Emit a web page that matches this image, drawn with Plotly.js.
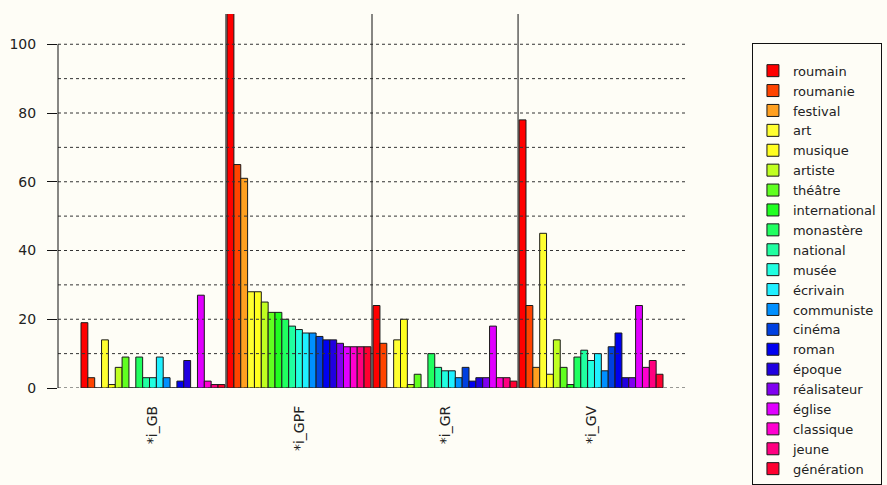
<!DOCTYPE html>
<html>
<head>
<meta charset="utf-8">
<script src="https://cdn.plot.ly/plotly-3.0.1.min.js"></script>
<style>
html,body{margin:0;padding:0;background:#FEFDF6;}
#chart{width:887px;height:485px;}
</style>
</head>
<body>
<div id="chart"></div>
<script>
const groups = ["*i_GB", "*i_GPF", "*i_GR", "*i_GV"];
const categories = ["roumain","roumanie","festival","art","musique","artiste","théâtre","international","monastère","national","musée","écrivain","communiste","cinéma","roman","époque","réalisateur","église","classique","jeune","génération"];
const colors = ["#FF0000","#FF4400","#FFA020","#FFFF30","#FFFF20","#C0FF20","#60FF20","#20FF20","#20FF60","#20FFA0","#20FFE0","#20F0FF","#0090FF","#0040E0","#0000F0","#2000E0","#8000F0","#E000FF","#FF00D0","#FF0080","#FF0030"];
const valuesGB  = [19, 3, 0, 14, 1, 6, 9, 0, 9, 3, 3, 9, 3, 0, 2, 8, 0, 27, 2, 1, 1];
const valuesGPF = [109, 65, 61, 28, 28, 25, 22, 22, 20, 18, 17, 16, 16, 15, 14, 14, 13, 12, 12, 12, 12];
const valuesGR  = [24, 13, 0, 14, 20, 1, 4, 0, 10, 6, 5, 5, 3, 6, 2, 3, 3, 18, 3, 3, 2];
const valuesGV  = [78, 24, 6, 45, 4, 14, 6, 1, 9, 11, 8, 10, 5, 12, 16, 3, 3, 24, 6, 8, 4];
const yTicks = [0, 20, 40, 60, 80, 100];

const traces = categories.map((c, i) => ({
  type: "bar",
  name: c,
  x: groups,
  y: [valuesGB[i], valuesGPF[i], valuesGR[i], valuesGV[i]],
  marker: {color: colors[i], line: {color: "#1a1a1a", width: 1}},
  hoverinfo: "none"
}));

const shapes = [];
for (let v = 0; v <= 100; v += 10) {
  shapes.push({type: "line", xref: "x domain", yref: "y", x0: 0, x1: 1, y0: v, y1: v,
    line: {color: "#333", width: 1, dash: "dot"}, layer: "above"});
}
for (let k = 0; k < groups.length - 1; k++) {
  shapes.push({type: "line", xref: "x", yref: "y domain", x0: k + 0.5, x1: k + 0.5, y0: 0, y1: 1,
    line: {color: "#111", width: 1}, layer: "above"});
}
shapes.push({type: "line", xref: "x domain", yref: "y", x0: 0, x1: 0, y0: 0, y1: 100,
  line: {color: "#111", width: 1}, layer: "above"});

const H = 485;
const layout = {
  width: 887, height: H,
  margin: {l: 58, r: 201, t: 0, b: 0, autoexpand: false},
  paper_bgcolor: "#FEFDF6",
  plot_bgcolor: "#FEFDF6",
  barmode: "group",
  bargap: 0.015,
  bargroupgap: 0,
  font: {family: "DejaVu Sans", size: 14, color: "#222"},
  showlegend: true,
  legend: {
    x: 1.105, y: 1 - 43 / H, xanchor: "left", yanchor: "top",
    bordercolor: "#111", borderwidth: 1, bgcolor: "#FEFDF6",
    font: {family: "DejaVu Sans", size: 13, color: "#222"},
    title: {text: " ", font: {size: 9}},
    traceorder: "normal"
  },
  xaxis: {
    type: "category",
    range: [-0.65, 3.65],
    showgrid: false, zeroline: false, showline: false,
    ticks: "", tickangle: -90,
    ticklabelstandoff: 14,
    tickfont: {family: "DejaVu Sans", size: 14, color: "#222"}
  },
  yaxis: {
    domain: [97 / H, 1 - 14 / H],
    range: [0, 108.8],
    tickvals: yTicks,
    ticktext: yTicks.map(String),
    showgrid: false, zeroline: false, showline: false,
    ticks: "outside", ticklen: 10, tickcolor: "#111", tickwidth: 1,
    ticklabelstandoff: 8,
    tickfont: {family: "DejaVu Sans", size: 14, color: "#222"}
  },
  shapes: shapes
};

Plotly.newPlot("chart", traces, layout, {displayModeBar: false, staticPlot: true});
</script>
</body>
</html>
